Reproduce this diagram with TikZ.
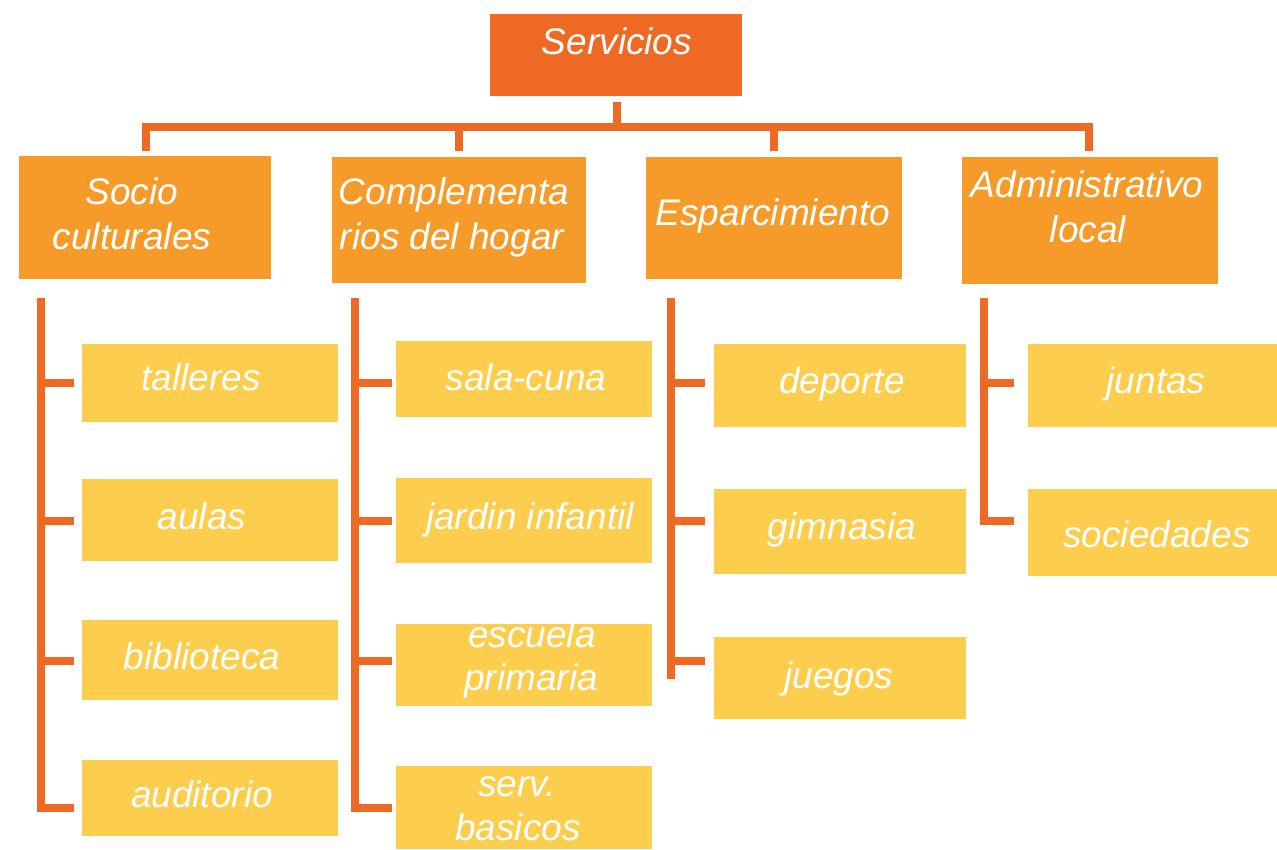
\documentclass[tikz,border=0pt]{standalone}
\usepackage{fontspec}
\setmainfont{Liberation Sans}
\usetikzlibrary{calc}
\definecolor{topc}{HTML}{EE6A24}
\definecolor{catc}{HTML}{F69B29}
\definecolor{leafc}{HTML}{FDCD4E}
\definecolor{linec}{HTML}{EE6A24}
\begin{document}
\begin{tikzpicture}[x=1pt,y=-1pt,
  box/.style={rectangle, inner sep=0pt, outer sep=0pt, draw=none},
  topbox/.style={box, fill=topc},
  catbox/.style={box, fill=catc},
  leafbox/.style={box, fill=leafc},
  lbl/.style={inner sep=0pt, outer sep=0pt, anchor=base, text=white,
    font=\fontsize{37}{44}\selectfont\itshape},
  conn/.style={draw=linec, line width=8pt, line join=miter}]
\path[use as bounding box] (0,0) rectangle (1277,849);
% boxes
\newcommand{\bx}[6]{\node[#1, minimum width=#4-#3, minimum height=#6-#5] (#2) at ({(#3+#4)/2},{(#5+#6)/2}) {};}
\bx{topbox}{serv}{490}{742}{14}{96}
\bx{catbox}{soc}{19}{271}{156}{279}
\bx{catbox}{com}{332}{586}{157}{283}
\bx{catbox}{esp}{646}{902}{157}{279}
\bx{catbox}{adm}{962}{1218}{157}{284}
\bx{leafbox}{tal}{82}{338}{344}{422}
\bx{leafbox}{aul}{82}{338}{479}{561}
\bx{leafbox}{bib}{82}{338}{620}{700}
\bx{leafbox}{aud}{82}{338}{760}{836}
\bx{leafbox}{sal}{396}{652}{341}{417}
\bx{leafbox}{jar}{396}{652}{478}{563}
\bx{leafbox}{esc}{396}{652}{624}{706}
\bx{leafbox}{ser}{396}{652}{766}{849}
\bx{leafbox}{dep}{714}{966}{344}{427}
\bx{leafbox}{gim}{714}{966}{489}{574}
\bx{leafbox}{jue}{714}{966}{637}{719}
\bx{leafbox}{jun}{1028}{1277}{344}{427}
\bx{leafbox}{sod}{1028}{1277}{489}{576}
% texts
\node[lbl] (t-serv) at (617,54) {Servicios};
\node[lbl] (t-soc1) at (132,204) {Socio};
\node[lbl] (t-soc2) at (132,249) {culturales};
\node[lbl] (t-com1) at (454,204) {Complementa};
\node[lbl] (t-com2) at (452,249) {rios del hogar};
\node[lbl] (t-esp) at (773,225) {Esparcimiento};
\node[lbl] (t-adm1) at (1087,197) {Administrativo};
\node[lbl] (t-adm2) at (1088,242) {local};
\node[lbl] (t-tal) at (201,390) {talleres};
\node[lbl] (t-aul) at (202,529) {aulas};
\node[lbl] (t-bib) at (202,669) {biblioteca};
\node[lbl] (t-aud) at (202,807) {auditorio};
\node[lbl] (t-sal) at (526,390) {sala-cuna};
\node[lbl] (t-jar) at (530,529) {jardin infantil};
\node[lbl] (t-esc1) at (532,647) {escuela};
\node[lbl] (t-esc2) at (531,690) {primaria};
\node[lbl] (t-ser1) at (517,796) {serv.};
\node[lbl] (t-ser2) at (518,840) {basicos};
\node[lbl] (t-dep) at (842,393) {deporte};
\node[lbl] (t-gim) at (842,539) {gimnasia};
\node[lbl] (t-jue) at (839,688) {juegos};
\node[lbl] (t-jun) at (1156,393) {juntas};
\node[lbl] (t-sod) at (1157,547) {sociedades};
% top connectors
\coordinate (hub) at (617,127);
\draw[conn] ([yshift=-6pt]hub |- serv.south) -- (hub);
\draw[conn] ([xshift=0.5pt,yshift=5pt]soc.north) |- (hub) -| ([xshift=-1pt,yshift=6pt]adm.north);
\draw[conn] (hub -| com.north) -- ([yshift=6pt]com.north);
\draw[conn] (hub -| esp.north) -- ([yshift=6pt]esp.north);
% rows of ticks
\coordinate (r1) at (0,383);
\coordinate (r2) at (0,521);
\coordinate (r3) at (0,661);
\coordinate (r4) at (0,808);
% column 1
\coordinate (s1) at (41,298);
\draw[conn, shorten >=8pt] (s1) |- (aud.west |- r4);
\foreach \n/\r in {tal/r1,aul/r2,bib/r3}
  \draw[conn, shorten >=8pt] (s1 |- \r) -- (\n.west |- \r);
% column 2
\coordinate (s2) at (355,298);
\draw[conn, shorten >=4pt] (s2) |- (ser.west |- r4);
\foreach \n/\r in {sal/r1,jar/r2,esc/r3}
  \draw[conn, shorten >=4pt] (s2 |- \r) -- (\n.west |- \r);
% column 3
\coordinate (s3) at (671,298);
\coordinate (e3) at (671,679);
\draw[conn] (s3) -- (e3);
\foreach \n/\r in {dep/r1,gim/r2,jue/r3}
  \draw[conn, shorten >=9pt] (s3 |- \r) -- (\n.west |- \r);
% column 4
\coordinate (s4) at (984,298);
\draw[conn, shorten >=14pt] (s4) |- (sod.west |- r2);
\draw[conn, shorten >=14pt] (s4 |- r1) -- (jun.west |- r1);
\end{tikzpicture}
\end{document}
